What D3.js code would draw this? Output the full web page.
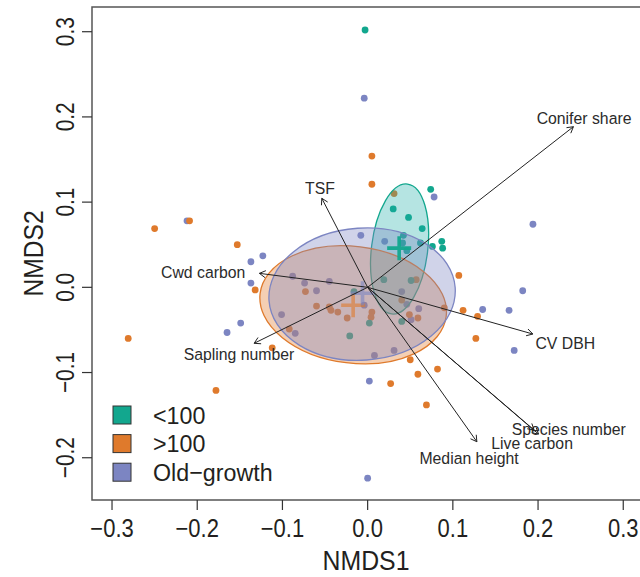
<!DOCTYPE html>
<html>
<head>
<meta charset="utf-8">
<script src="https://cdn.jsdelivr.net/npm/d3@7"></script>
<style>
  body { margin: 0; background: #fff; }
  text { font-family: "Liberation Sans", Arial, Helvetica, sans-serif; fill: #231f20; }
</style>
</head>
<body>
<div id="main"></div>
<script>
/*********************************************************
 * Data (NMDS site scores)
 *********************************************************/

const groupNames = ['<100', '>100', 'Old\u2212growth'];

// sites by stand age group: [NMDS1, NMDS2]
const youngSites = [
  [-0.003, 0.302], [0.030, 0.092], [0.048, 0.082], [0.064, 0.069],
  [0.042, 0.061], [0.041, 0.052], [0.046, 0.043], [0.062, 0.052],
  [0.074, 0.115], [0.076, 0.048], [0.087, 0.054], [0.088, 0.046],
  [0.019, 0.009], [0.051, 0.008], [-0.016, -0.005], [0.002, -0.042],
  [0.040, -0.040], [-0.021, -0.057]
];

const olderSites = [
  [0.005, 0.154], [0.005, 0.121], [0.031, 0.110], [0.107, 0.014],
  [0.057, 0.009], [0.040, -0.015], [0.049, -0.032], [0.059, -0.036],
  [0.090, -0.024], [0.112, -0.027], [0.129, -0.034], [0.127, -0.060],
  [0.050, -0.085], [0.059, -0.102], [0.082, -0.096], [0.027, -0.113],
  [0.069, -0.138], [0.005, -0.029], [0.004, -0.035], [-0.024, -0.036],
  [-0.035, -0.029], [-0.043, -0.027], [-0.045, -0.023], [-0.060, -0.022],
  [-0.073, -0.005], [-0.092, -0.049], [-0.112, -0.071], [-0.132, -0.003],
  [-0.153, 0.050], [-0.209, 0.078], [-0.250, 0.069], [-0.281, -0.060],
  [-0.178, -0.121]
];

const oldGrowthSites = [
  [-0.004, 0.222], [0.078, 0.106], [0.194, 0.074], [-0.008, 0.061],
  [0.020, 0.054], [0.182, -0.004], [0.040, -0.005], [-0.004, -0.021],
  [0.046, -0.020], [0.060, -0.025], [0.051, -0.038], [0.135, -0.026],
  [0.166, -0.027], [0.172, -0.074], [0.008, -0.080], [0.031, -0.074],
  [0.002, -0.110], [0.000, -0.224], [-0.088, 0.013], [-0.074, 0.005],
  [-0.060, -0.004], [-0.045, 0.007], [-0.101, -0.032], [-0.085, -0.054],
  [-0.123, 0.037], [-0.137, 0.030], [-0.137, 0.005], [-0.149, -0.042],
  [-0.165, -0.053], [-0.212, 0.078]
];

// group centroids
const centroids = [[0.037, 0.046], [-0.017, -0.021], [-0.006, -0.007]];

// standard-deviation ellipses: [semi-major, semi-minor, angle in degrees]
const ellipseCentres = [[0.0375, 0.045], [-0.017, -0.0205], [-0.0065, -0.008]];
const ellipseAxes = [[0.0768, 0.0330, 83], [0.1100, 0.0685, -7], [0.1095, 0.0775, 4]];

// fitted environmental vectors
const vectorNames = ['Conifer share', 'TSF', 'Cwd carbon', 'Sapling number',
  'CV DBH', 'Species number', 'Live carbon', 'Median height'];
const vectorEnds = [
  [0.2415, 0.1885], [-0.0538, 0.1045], [-0.127, 0.0164], [-0.1332, -0.0657],
  [0.1939, -0.0548], [0.2005, -0.1722], [0.1954, -0.1675], [0.1282, -0.1812]
];
const vectorLabelAt = [
  [0.254, 0.199], [-0.056, 0.117], [-0.193, 0.018], [-0.151, -0.078],
  [0.232, -0.065], [0.236, -0.166], [0.193, -0.183], [0.119, -0.200]
];

const xTicks = [-0.3, -0.2, -0.1, 0.0, 0.1, 0.2, 0.3];
const yTicks = [-0.2, -0.1, 0.0, 0.1, 0.2, 0.3];

/*********************************************************
 * Layout
 *********************************************************/

const svgWidth = 640;
const svgHeight = 577;
const margin = { t: 7, l: 92 };
const plotWidth = 550;
const plotHeight = 493;

const groupColors = ['#12a78e', '#df7a2c', '#7c85c2'];
const ellipseFill = ['#18aaa4', '#e07b2d', '#7c85c2'];

const svg = d3
  .select('#main')
  .append('svg')
  .attr('width', svgWidth)
  .attr('height', svgHeight);

const x = d3.scaleLinear().domain([-0.3235, 0.3220]).range([margin.l, margin.l + plotWidth]);
const y = d3.scaleLinear().domain([-0.2496, 0.3290]).range([margin.t + plotHeight, margin.t]);

// text with a squeeze along the baseline, the figure uses a narrow face
function addText(parent, str, px, py, size, squeeze, rotate, anchor) {
  return parent
    .append('text')
    .attr('transform', `translate(${px},${py}) rotate(${rotate}) scale(${squeeze},1)`)
    .attr('text-anchor', anchor)
    .style('font-size', size + 'px')
    .text(str);
}

/*********************************************************
 * Points, ellipses, centroids
 *********************************************************/

const plot = svg.append('g').attr('class', 'plot');

const siteGroups = [youngSites, olderSites, oldGrowthSites];

// old-growth first so the others sit on top
[2, 1, 0].forEach(gi => {
  plot
    .selectAll('.site-' + gi)
    .data(siteGroups[gi])
    .enter()
    .append('circle')
    .attr('class', 'site-' + gi)
    .attr('cx', d => x(d[0]))
    .attr('cy', d => y(d[1]))
    .attr('r', 3.4)
    .style('fill', groupColors[gi]);
});

plot
  .selectAll('.ellipse')
  .data(ellipseCentres)
  .enter()
  .append('ellipse')
  .attr('class', 'ellipse')
  .attr('cx', d => x(d[0]))
  .attr('cy', d => y(d[1]))
  .attr('rx', (d, i) => x(ellipseAxes[i][0]) - x(0))
  .attr('ry', (d, i) => y(0) - y(ellipseAxes[i][1]))
  .attr('transform', (d, i) => `rotate(${-ellipseAxes[i][2]},${x(d[0])},${y(d[1])})`)
  .style('fill', (d, i) => ellipseFill[i])
  .style('fill-opacity', (d, i) => (i === 0 ? 0.32 : 0.36))
  .style('stroke', (d, i) => groupColors[i])
  .style('stroke-width', 1.3);

const plusHalf = 12;
centroids.forEach((c, i) => {
  const cx = x(c[0]);
  const cy = y(c[1]);
  plot
    .append('path')
    .attr('d', `M${cx - plusHalf},${cy}H${cx + plusHalf}M${cx},${cy - plusHalf}V${cy + plusHalf}`)
    .style('stroke', groupColors[i])
    .style('stroke-opacity', i === 0 ? 0.95 : 0.6)
    .style('stroke-width', 3.6)
    .style('fill', 'none');
});

/*********************************************************
 * Environmental vectors
 *********************************************************/

const headLen = 7;
const headAngle = Math.PI / 6;

vectorEnds.forEach((v, i) => {
  const x0 = x(0);
  const y0 = y(0);
  const x1 = x(v[0]);
  const y1 = y(v[1]);
  const ang = Math.atan2(y1 - y0, x1 - x0);
  const hx1 = x1 - headLen * Math.cos(ang - headAngle);
  const hy1 = y1 - headLen * Math.sin(ang - headAngle);
  const hx2 = x1 - headLen * Math.cos(ang + headAngle);
  const hy2 = y1 - headLen * Math.sin(ang + headAngle);
  plot
    .append('path')
    .attr('d', `M${x0},${y0}L${x1},${y1}M${hx1},${hy1}L${x1},${y1}L${hx2},${hy2}`)
    .style('stroke', '#222')
    .style('stroke-width', 1)
    .style('fill', 'none');

  addText(plot, vectorNames[i], x(vectorLabelAt[i][0]), y(vectorLabelAt[i][1]), 17, 0.93, 0, 'middle')
    .attr('dy', '0.35em')
    .style('fill', '#2b2b2b');
});

/*********************************************************
 * Box, axes, titles
 *********************************************************/

svg
  .append('rect')
  .attr('x', margin.l)
  .attr('y', margin.t)
  .attr('width', plotWidth)
  .attr('height', plotHeight)
  .style('fill', 'none')
  .style('stroke', '#555')
  .style('stroke-width', 1.5);

const axisG = svg.append('g').attr('class', 'axes');
const yBottom = margin.t + plotHeight;

xTicks.forEach(t => {
  axisG
    .append('line')
    .attr('x1', x(t))
    .attr('x2', x(t))
    .attr('y1', yBottom)
    .attr('y2', yBottom + 10)
    .style('stroke', '#333')
    .style('stroke-width', 1.2);
  addText(axisG, d3.format('.1f')(t).replace('-', '\u2212'), x(t), 537, 25, 0.88, 0, 'middle');
});

yTicks.forEach(t => {
  axisG
    .append('line')
    .attr('x1', margin.l)
    .attr('x2', margin.l - 10)
    .attr('y1', y(t))
    .attr('y2', y(t))
    .style('stroke', '#333')
    .style('stroke-width', 1.2);
  addText(axisG, d3.format('.1f')(t).replace('-', '\u2212'), 74, y(t), 26, 0.8, -90, 'middle');
});

addText(svg, 'NMDS1', margin.l + plotWidth / 2 - 1, 570, 27, 0.92, 0, 'middle');
addText(svg, 'NMDS2', 43, margin.t + plotHeight / 2, 28, 0.88, -90, 'middle');

/*********************************************************
 * Legend
 *********************************************************/

const legend = svg.append('g').attr('class', 'legend');
const legendTop = 415;
const legendStep = 28.6;

groupNames.forEach((name, i) => {
  const cy = legendTop + i * legendStep;
  legend
    .append('rect')
    .attr('x', 113)
    .attr('y', cy - 9)
    .attr('width', 18)
    .attr('height', 18)
    .style('fill', groupColors[i])
    .style('stroke', '#333')
    .style('stroke-width', 1);
  addText(legend, name, 153, cy, 24.5, 0.95, 0, 'start').attr('dy', '0.35em');
});
</script>
</body>
</html>
